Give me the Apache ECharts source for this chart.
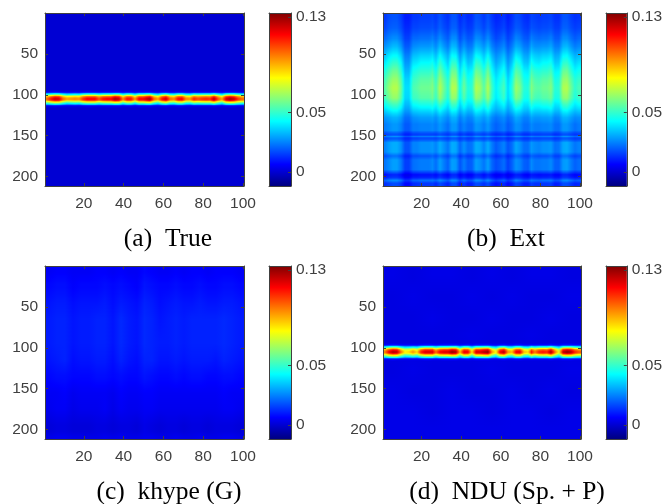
<!DOCTYPE html>
<html><head><meta charset="utf-8">
<style>html,body{margin:0;padding:0;background:#fff}#c{width:665px;height:504px;filter:blur(0.4px)}</style>
<script src="https://cdn.jsdelivr.net/npm/echarts@6/dist/echarts.min.js"></script>
</head><body><div id="c"></div>
<script>
// All cell values are in thousandths.
const captions = ['(a)  True', '(b)  Ext', '(c)  khype (G)', '(d)  NDU (Sp. + P)'];
const xTicks = [20, 40, 60, 80, 100];
const yTicks = [50, 100, 150, 200];
const barTicks = [0, 0.05, 0.13];
const barRange = [-0.0118, 0.1334];
const jet = ['#000080','#0000ff','#0080ff','#00ffff','#80ff80','#ffff00','#ff8000','#ff0000','#800000'];

// (a) True: band rows
const bandEdges = [94,96,98,100,102,104,106,108,110,112,114,116];
const trueBand = [
[1,1,2,1,1,1,1,1,1,1,2,2,1,1,1,2,2,2,2,1,1,2,1,2,2,2,2,1,1,1,2,1,1,2,2,1,1,1,1,1,1,1,2,1,1,2,2,2,1,1],
[10,12,13,12,10,9,9,10,9,11,12,12,12,11,12,12,12,13,13,10,12,12,9,12,12,13,13,10,9,12,13,10,10,12,12,10,9,11,11,11,11,11,13,11,9,12,13,13,11,10],
[38,44,48,46,38,32,34,36,34,42,45,45,45,40,44,45,45,49,48,36,44,44,34,45,45,48,49,38,32,44,48,38,36,44,45,36,34,43,40,42,43,42,49,40,32,46,49,48,42,38],
[68,78,85,83,68,60,63,65,63,75,80,80,80,71,78,80,80,88,85,65,78,78,63,80,80,85,88,68,60,78,85,68,65,78,80,65,63,76,71,75,76,75,87,71,60,83,88,85,75,68],
[92,104,112,110,92,84,86,88,86,99,106,106,106,96,104,106,106,117,112,88,104,104,86,106,106,112,117,92,84,104,112,92,88,104,106,88,86,101,96,99,101,99,115,96,84,110,117,112,99,92],
[102,115,125,122,102,94,96,98,96,110,118,118,118,106,115,118,118,130,125,98,115,115,96,118,118,125,130,102,94,115,125,102,98,115,118,98,96,112,106,110,112,110,128,106,94,122,130,125,110,102],
[92,104,112,110,92,84,86,88,86,99,106,106,106,96,104,106,106,117,112,88,104,104,86,106,106,112,117,92,84,104,112,92,88,104,106,88,86,101,96,99,101,99,115,96,84,110,117,112,99,92],
[68,78,85,83,68,60,63,65,63,75,80,80,80,71,78,80,80,88,85,65,78,78,63,80,80,85,88,68,60,78,85,68,65,78,80,65,63,76,71,75,76,75,87,71,60,83,88,85,75,68],
[38,44,48,46,38,32,34,36,34,42,45,45,45,40,44,45,45,49,48,36,44,44,34,45,45,48,49,38,32,44,48,38,36,44,45,36,34,43,40,42,43,42,49,40,32,46,49,48,42,38],
[10,12,13,12,10,9,9,10,9,11,12,12,12,11,12,12,12,13,13,10,12,12,9,12,12,13,13,10,9,12,13,10,10,12,12,10,9,11,11,11,11,11,13,11,9,12,13,13,11,10],
[1,1,2,1,1,1,1,1,1,1,2,2,1,1,1,2,2,2,2,1,1,2,1,2,2,2,2,1,1,1,2,1,1,2,2,1,1,1,1,1,1,1,2,1,1,2,2,2,1,1]
];
const trueBack = [[0]];
const trueBackRows = [0, 211.5];

// (b) Ext
const extEdges = [0,12,24,36,46,56,66,76,86,98,108,116,124,132,146,150,152,156,172,177,194,200,203,206,211.5];
const extRows = [
[14,17,18,18,15,10,10,14,14,15,15,15,16,14,18,15,13,18,18,12,15,12,13,18,17,14,18,14,11,12,14,10,13,17,16,13,12,16,15,14,15,15,16,13,13,18,18,15,13,14],
[16,19,20,20,17,12,12,16,16,17,17,17,18,16,20,17,15,20,20,14,17,14,15,20,19,16,20,16,13,14,16,12,15,19,18,15,14,18,17,16,17,17,18,15,15,20,20,17,15,16],
[21,24,26,26,22,15,15,21,21,22,22,22,24,21,26,22,19,26,26,17,22,18,19,26,25,21,26,20,16,18,21,15,19,25,23,19,18,24,22,21,22,22,24,19,19,26,26,22,19,21],
[27,30,33,33,28,19,19,26,27,28,28,28,30,26,33,28,24,33,32,22,28,23,24,33,31,27,33,25,21,23,26,19,24,31,29,24,23,30,27,27,28,28,30,24,24,32,33,28,24,26],
[34,39,42,42,36,24,24,33,34,36,36,36,38,33,42,36,31,42,41,28,36,29,31,42,40,34,42,32,26,29,33,24,30,40,37,30,29,38,35,34,36,36,38,30,31,41,42,36,31,33],
[40,46,50,50,43,28,28,39,40,43,43,43,45,39,50,43,36,50,49,33,43,34,36,50,48,40,50,38,30,34,39,28,35,48,44,35,34,45,41,40,43,43,45,35,36,49,50,43,36,39],
[47,53,58,58,49,32,32,45,47,49,49,49,52,45,58,49,42,58,57,38,49,40,42,58,55,47,58,43,35,40,45,32,41,55,51,41,40,52,48,47,49,49,52,41,42,57,58,49,42,45],
[52,59,64,64,55,36,36,50,52,55,55,55,58,50,64,55,47,64,63,42,55,44,47,64,61,52,64,48,39,44,50,36,45,61,56,45,44,58,53,52,55,55,58,45,47,63,64,55,47,50],
[55,63,68,68,58,38,38,53,55,58,58,58,61,53,68,58,49,68,67,45,58,47,49,68,65,55,68,51,41,47,53,38,48,65,60,48,47,61,56,55,58,58,61,48,49,67,68,58,49,53],
[52,59,64,64,55,37,37,51,52,55,55,55,58,51,64,55,47,64,63,43,55,45,47,64,61,52,64,49,40,45,51,37,46,61,57,46,45,58,53,52,55,55,58,46,47,63,64,55,47,51],
[44,49,52,52,46,33,33,43,44,46,46,46,48,43,52,46,40,52,51,37,46,39,40,52,50,44,52,41,35,39,43,33,39,50,47,39,39,48,44,44,46,46,48,39,40,51,52,46,40,43],
[36,39,42,42,37,28,28,35,36,37,37,37,39,35,42,37,33,42,41,31,37,32,33,42,40,36,42,34,30,32,35,28,33,40,38,33,32,39,36,36,37,37,39,33,33,41,42,37,33,35],
[28,30,32,32,29,22,22,27,28,29,29,29,30,27,32,29,26,32,32,24,29,25,26,32,31,28,32,26,23,25,27,22,25,31,29,25,25,30,28,28,29,29,30,25,26,32,32,29,26,27],
[24,26,28,28,25,19,19,24,24,25,25,25,26,24,28,25,22,28,28,21,25,22,22,28,27,24,28,23,20,22,24,19,22,27,26,22,22,26,24,24,25,25,26,22,22,28,28,25,22,24],
[15,17,18,18,16,11,11,15,15,16,16,16,16,15,18,16,14,18,18,13,16,13,14,18,17,15,18,14,12,13,15,11,13,17,16,13,13,16,15,15,16,16,16,13,14,18,18,16,14,15],
[23,25,27,27,24,18,18,23,23,24,24,24,25,23,27,24,21,27,27,20,24,21,21,27,26,23,27,22,19,21,23,18,21,26,25,21,21,25,23,23,24,24,25,21,21,27,27,24,21,23],
[16,18,19,19,17,12,12,16,16,17,17,17,17,16,19,17,15,19,19,14,17,14,15,19,18,16,19,15,13,14,16,12,14,18,17,14,14,17,16,16,17,17,17,14,15,19,19,17,15,16],
[25,29,31,31,27,18,18,25,25,27,27,27,28,25,31,27,23,31,30,21,27,22,23,31,30,25,31,24,19,22,25,18,22,30,27,22,22,28,26,25,27,27,28,22,23,30,31,27,23,25],
[17,20,22,22,18,11,11,17,17,18,18,18,20,17,22,18,15,22,22,13,18,14,15,22,21,17,22,16,12,14,17,11,15,21,19,15,14,20,18,17,18,18,20,15,15,22,22,18,15,17],
[23,26,29,29,24,15,15,22,23,24,24,24,26,22,29,24,20,29,28,18,24,19,20,29,27,23,29,21,17,19,22,15,20,27,25,20,19,26,23,23,24,24,26,20,20,28,29,24,20,22],
[8,11,12,12,9,4,4,8,8,9,9,9,10,8,12,9,7,12,12,6,9,6,7,12,11,8,12,8,5,6,8,4,7,11,10,7,6,10,9,8,9,9,10,7,7,12,12,9,7,8],
[11,14,15,15,12,7,7,11,11,12,12,12,13,11,15,12,10,15,15,9,12,9,10,15,14,11,15,11,8,9,11,7,10,14,13,10,9,13,12,11,12,12,13,10,10,15,15,12,10,11],
[20,24,26,26,22,13,13,20,20,22,22,22,23,20,26,22,18,26,25,16,22,17,18,26,25,20,26,19,14,17,20,13,17,25,22,17,17,23,21,20,22,22,23,17,18,25,26,22,18,20],
[13,15,17,17,14,7,7,12,13,14,14,14,15,12,17,14,11,17,17,9,14,10,11,17,16,13,17,11,8,10,12,7,10,16,14,10,10,15,13,13,14,14,15,10,11,17,17,14,11,12]
];

// (c) khype (G)
const khypeEdges = [0,15,35,55,80,105,125,146,165,185,205,211.5];
const khypeRows = [
[5,6,6,5,5,5,6,6,5,6,5,5,7,6,5,5,6,5,6,6,5,6,6,6,5],
[7,8,8,6,7,7,7,8,7,8,7,6,9,8,7,7,8,7,7,8,7,7,8,8,7],
[9,10,10,8,9,9,9,10,8,10,9,8,11,10,8,9,10,9,9,10,9,9,10,10,9],
[10,11,11,9,10,10,11,11,9,12,10,9,12,11,9,10,11,10,11,11,11,11,12,11,10],
[10,11,11,9,10,10,11,11,9,12,10,9,12,11,10,10,11,10,11,11,11,11,12,11,10],
[9,10,11,8,9,9,10,10,8,11,9,8,11,11,9,9,10,9,10,10,10,9,11,10,9],
[7,8,8,7,7,7,8,8,7,8,7,7,9,8,7,7,8,7,8,8,7,7,8,8,7],
[5,5,6,4,5,5,5,5,4,6,5,5,6,6,5,5,5,5,5,5,5,5,6,5,5],
[4,5,5,3,4,4,4,5,3,5,4,4,5,5,4,4,4,4,4,4,4,4,5,5,4],
[1,2,2,1,1,1,2,2,1,2,2,1,3,2,1,2,2,1,2,2,1,2,2,2,1],
[3,4,4,3,3,3,3,4,3,4,3,3,4,4,3,3,4,3,3,4,3,3,4,4,3]
];

// (d) NDU (Sp. + P)
const nduBand = [
[3,3,4,3,3,3,3,3,3,3,4,4,3,3,3,4,4,4,4,3,3,4,3,4,4,4,4,3,3,3,4,3,3,4,4,3,3,3,3,3,3,3,4,3,3,4,4,4,3,3],
[14,17,18,18,14,12,12,13,12,16,17,17,17,14,17,17,17,18,18,13,17,17,12,17,17,18,18,13,11,17,18,13,13,17,17,13,12,16,14,16,16,16,18,14,11,18,18,18,16,15],
[42,50,54,52,42,34,36,40,36,47,51,51,51,43,50,51,51,55,54,38,50,50,36,51,51,54,55,40,34,50,54,40,38,50,50,38,36,48,42,47,48,47,55,42,33,52,55,54,47,44],
[70,83,90,88,70,57,60,67,60,78,85,85,85,71,83,85,85,92,90,63,84,83,60,85,85,90,92,67,56,83,90,67,63,83,84,63,60,80,70,78,80,78,91,70,55,88,92,90,78,74],
[90,106,115,112,90,74,76,86,76,101,110,110,110,92,106,110,110,119,115,81,108,106,76,110,110,115,119,86,72,106,115,86,81,106,108,81,76,104,90,101,104,101,117,90,70,112,119,115,101,94],
[100,118,128,125,100,82,85,95,85,112,122,122,122,102,118,122,122,132,128,90,120,118,85,122,122,128,132,95,80,118,128,95,90,118,120,90,85,115,100,112,115,112,130,100,78,125,132,128,112,105],
[90,106,115,112,90,74,76,86,76,101,110,110,110,92,106,110,110,119,115,81,108,106,76,110,110,115,119,86,72,106,115,86,81,106,108,81,76,104,90,101,104,101,117,90,70,112,119,115,101,94],
[70,83,90,88,70,57,60,67,60,78,85,85,85,71,83,85,85,92,90,63,84,83,60,85,85,90,92,67,56,83,90,67,63,83,84,63,60,80,70,78,80,78,91,70,55,88,92,90,78,74],
[42,50,54,52,42,34,36,40,36,47,51,51,51,43,50,51,51,55,54,38,50,50,36,51,51,54,55,40,34,50,54,40,38,50,50,38,36,48,42,47,48,47,55,42,33,52,55,54,47,44],
[14,17,18,18,14,12,12,13,12,16,17,17,17,14,17,17,17,18,18,13,17,17,12,17,17,18,18,13,11,17,18,13,13,17,17,13,12,16,14,16,16,16,18,14,11,18,18,18,16,15],
[3,3,4,3,3,3,3,3,3,3,4,4,3,3,3,4,4,4,4,3,3,4,3,4,4,4,4,3,3,3,4,3,3,4,4,3,3,3,3,3,3,3,4,3,3,4,4,4,3,3]
];
const nduBackEdges = [0,25,50,75,94,116,140,165,190,211.5];
const nduBack = [
[3,2,3,3,2,3,2,3,3,2],
[2,3,2,2,3,2,3,2,2,3],
[2,2,3,2,2,3,2,2,3,2],
[2,2,2,2,3,2,2,3,2,2],
[2,2,2,2,2,2,2,2,2,2],
[2,3,2,2,2,3,2,2,2,3],
[3,2,2,3,2,2,3,2,3,2],
[3,3,2,3,3,2,3,3,2,3],
[3,3,3,3,3,3,3,3,3,3]
];

// Each layer keeps its read matrix; cells are one data row each.
const layers = [
  {m: trueBack, e: trueBackRows}, {m: trueBand, e: bandEdges},
  {m: extRows, e: extEdges},
  {m: khypeRows, e: khypeEdges},
  {m: nduBack, e: nduBackEdges}, {m: nduBand, e: bandEdges}
];
function cells(L) {
  const out = [], lay = layers[L], n = lay.m[0].length, w = 100 / n;
  lay.m.forEach((row, r) => row.forEach((v, c) => {
    out.push([0.5 + c * w, 0.5 + (c + 1) * w, lay.e[r], lay.e[r + 1], v, r, c, L]);
  }));
  return out;
}
const panelData = [
  cells(0).concat(cells(1)),
  cells(2),
  cells(3),
  cells(4).concat(cells(5))
];

const frames = [
  {l: 45, t: 13, w: 199, h: 173, bl: 269},
  {l: 383, t: 13, w: 198, h: 173, bl: 606},
  {l: 45, t: 266, w: 199, h: 173, bl: 269},
  {l: 383, t: 266, w: 198, h: 173, bl: 606}
];
const captionPos = [[168, 226], [506, 226], [169, 479], [507, 479]];

const ink = '#404040';
const font = {color: ink, fontSize: 15.5, fontFamily: 'Liberation Sans'};
const line = {show: true, onZero: false, lineStyle: {color: ink, width: 1}};
const tick = vals => ({show: true, inside: true, length: 3, customValues: vals, lineStyle: {color: ink, width: 1}});
const opt = {
  animation: false, backgroundColor: '#fff',
  title: captions.map((t, i) => ({
    text: t, left: captionPos[i][0], top: captionPos[i][1], textAlign: 'center', padding: 0,
    textStyle: {color: '#000', fontSize: 25.5, fontWeight: 'normal', fontFamily: 'Liberation Serif'}
  })),
  grid: [], xAxis: [], yAxis: [], series: []
};
const jetColor = v => echarts.color.lerp(Math.max(0, Math.min(1, (v / 1000 - barRange[0]) / (barRange[1] - barRange[0]))), jet);
// shading of an image drawn with smoothing: a cell keeps its read value at its centre
function shade(lay, r, c, yu) {
  const m = lay.m, e = lay.e, k = Math.max(0, Math.min(m[0].length - 1, c)), v = m[r][k];
  const h = e[r + 1] - e[r];
  if (yu < (e[r] + e[r + 1]) / 2 && r > 0) {
    const w = Math.min(h, e[r] - e[r - 1]) / 2, d = yu - e[r];
    return d < w ? v + (1 - d / w) / 2 * (m[r - 1][k] - v) : v;
  }
  if (yu >= (e[r] + e[r + 1]) / 2 && r < m.length - 1) {
    const w = Math.min(h, e[r + 2] - e[r + 1]) / 2, d = e[r + 1] - yu;
    return d < w ? v + (1 - d / w) / 2 * (m[r + 1][k] - v) : v;
  }
  return v;
}
function renderCell(p, api) {
  const a = api.coord([api.value(0), api.value(2)]), b = api.coord([api.value(1), api.value(3)]);
  const x0 = Math.round(a[0]), x1 = Math.round(b[0]), y0 = Math.round(a[1]), y1 = Math.round(b[1]);
  const r = api.value(5), c = api.value(6), lay = layers[api.value(7)];
  const children = [];
  for (let y = y0; y < y1; y++) {
    const yu = api.value(2) + (y + 0.5 - y0) / (y1 - y0) * (api.value(3) - api.value(2));
    const mid = shade(lay, r, c, yu);
    const left = (shade(lay, r, c - 1, yu) + mid) / 2, right = (shade(lay, r, c + 1, yu) + mid) / 2;
    children.push({type: 'rect', shape: {x: x0, y: y, width: x1 - x0, height: 1},
      style: {fill: new echarts.graphic.LinearGradient(0, 0, 1, 0, [
        {offset: 0, color: jetColor(left)}, {offset: 0.5, color: jetColor(mid)}, {offset: 1, color: jetColor(right)}])}});
  }
  return {type: 'group', children};
}
function renderBar(p, api) {
  const a = api.coord([api.value(0), api.value(3)]), b = api.coord([api.value(1), api.value(2)]);
  return {type: 'rect', shape: {x: a[0], y: a[1], width: b[0] - a[0], height: b[1] - a[1]},
    style: {fill: new echarts.graphic.LinearGradient(0, 1, 0, 0,
      jet.map((c, i) => ({offset: i / (jet.length - 1), color: c})))}};
}
frames.forEach((f, i) => {
  const g = 2 * i;
  opt.grid.push({left: f.l, top: f.t, width: f.w, height: f.h});
  opt.grid.push({left: f.bl, top: f.t, width: 22, height: f.h});
  const xb = {type: 'value', gridIndex: g, min: 0.5, max: 100.5, splitLine: {show: false}, axisLine: line, z: 5};
  const yb = {type: 'value', gridIndex: g, min: 0, max: 211.5, inverse: true, splitLine: {show: false}, axisLine: line, z: 5};
  const n = opt.xAxis.length, m = opt.yAxis.length;
  opt.xAxis.push(Object.assign({}, xb, {position: 'bottom', axisTick: tick(xTicks),
    axisLabel: Object.assign({}, font, {customValues: xTicks, margin: 10})}));
  opt.xAxis.push(Object.assign({}, xb, {position: 'top', axisTick: tick(xTicks), axisLabel: {show: false}}));
  opt.yAxis.push(Object.assign({}, yb, {position: 'left', axisTick: tick(yTicks),
    axisLabel: Object.assign({}, font, {customValues: yTicks, margin: 7, padding: [4, 0, 0, 0]})}));
  opt.yAxis.push(Object.assign({}, yb, {position: 'right', axisTick: tick(yTicks), axisLabel: {show: false}}));
  opt.series[i] = {type: 'custom', xAxisIndex: n, yAxisIndex: m, renderItem: renderCell, data: panelData[i],
    encode: {x: [0, 1], y: [2, 3]}, silent: true, progressive: 0, z: 2};
  const xc = {type: 'value', gridIndex: g + 1, min: 0, max: 1, splitLine: {show: false}, axisLine: line,
    axisTick: {show: false}, axisLabel: {show: false}, z: 5};
  const yc = {type: 'value', gridIndex: g + 1, min: barRange[0], max: barRange[1], splitLine: {show: false}, axisLine: line, z: 5};
  opt.xAxis.push(Object.assign({}, xc, {position: 'bottom'}));
  opt.xAxis.push(Object.assign({}, xc, {position: 'top'}));
  opt.yAxis.push(Object.assign({}, yc, {position: 'left', axisTick: {show: false}, axisLabel: {show: false}}));
  opt.yAxis.push(Object.assign({}, yc, {position: 'right', axisTick: tick(barTicks),
    axisLabel: Object.assign({}, font, {customValues: barTicks, margin: 5, padding: [3, 0, 0, 0], formatter: v => String(v)})}));
  opt.series[4 + i] = {type: 'custom', xAxisIndex: n + 2, yAxisIndex: m + 3, renderItem: renderBar,
    data: [[0, 1, barRange[0], barRange[1]]], encode: {x: [0, 1], y: [2, 3]}, silent: true, z: 2};
});
echarts.init(document.getElementById('c')).setOption(opt);
</script></body></html>
